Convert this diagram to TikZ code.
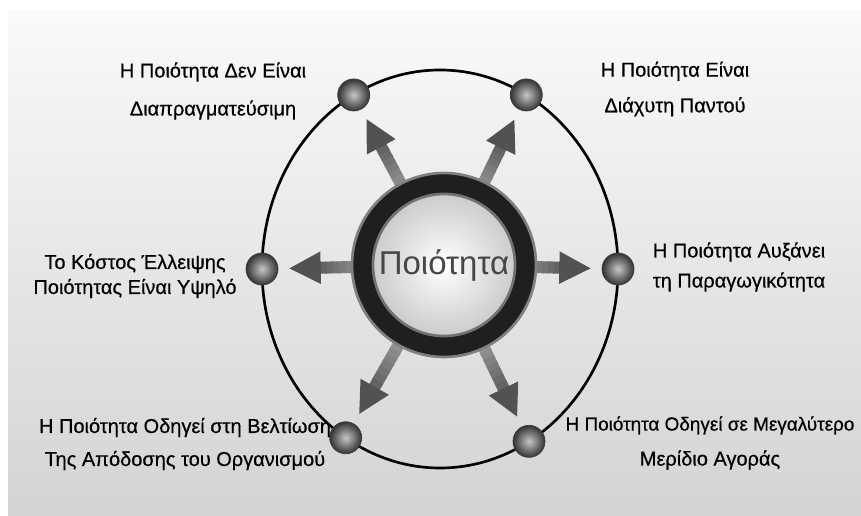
\documentclass[tikz,border=0pt]{standalone}
\usepackage{fontspec}
\setmainfont{Liberation Sans}
\newfontfamily\lblfont[FakeBold=0.5]{Liberation Sans}
\usepackage{tikz}
\usetikzlibrary{calc,arrows.meta}

\begin{document}
\begin{tikzpicture}[x=0.75pt,y=-0.75pt,
  qtext/.style={align=center,text=black,font=\lblfont\fontsize{15}{18.75}\selectfont},
  qball/.style={circle,minimum size=24pt,inner sep=0pt,inner color=black!22,outer color=black!80,draw=black!75,line width=0.6pt},
  qhead/.style={-{Triangle[length=24pt,width=22.5pt]},line width=9pt,draw=black!68,fill=black!68}]

% Panel behind the picture
\useasboundingbox (0,0) rectangle (861,516);
\clip (0,0) rectangle (861,516);
\fill[white] (0,0) rectangle (861,516);
\shade[top color=black!2, middle color=black!6, bottom color=black!17] (8,11) rectangle (861,516);

\coordinate (ctr) at (440,269);
\coordinate (mid) at (444,265);

% The ellipse through the six balls
\draw[line width=2pt] (ctr) ellipse [x radius=178, y radius=199];

\node[qball] (b1) at ($(ctr)+(241:178 and 199)$) {};
\node[qball] (b2) at ($(ctr)+(299:178 and 199)$) {};
\node[qball] (b3) at ($(ctr)+(180:178 and 199)$) {};
\node[qball] (b4) at ($(ctr)+(0:178 and 199)$) {};
\node[qball] (b5) at ($(ctr)+(122:178 and 199)$) {};
\node[qball] (b6) at ($(ctr)+(60:178 and 199)$) {};

% Arrows from the centre to the balls
\newcommand{\ray}[1]{%
  \coordinate (hb) at ($(#1)!44pt!(mid)$);
  \foreach \k in {0,...,9}{
    \pgfmathtruncatemacro{\g}{34+3*\k}
    \draw[line width=9pt, black!\g] ($(mid)!{0.5+0.05*\k}!(hb)$) -- ($(mid)!{0.56+0.05*\k}!(hb)$);
  }
  \draw[qhead] (hb) -- ($(#1)!20pt!(mid)$);
}
\ray{b1}
\ray{b2}
\ray{b3}
\ray{b4}
\ray{b5}
\ray{b6}

% Centre ring
\node[circle,minimum size=138pt,inner sep=0pt,fill=black!88,draw=black!50,line width=2pt] (ring) at (mid) {};
\node[circle,minimum size=106.5pt,inner sep=0pt,inner color=white,outer color=black!20,draw=black!55,line width=2pt,
  text=black!72,font=\fontsize{24.75}{30}\selectfont] (core) at (mid) {Ποιότητα};

% Labels
\node[qtext] (t1) at (213,91) {Η Ποιότητα Δεν Είναι\\[9.75pt]Διαπραγματεύσιμη};
\node[qtext] (t2) at (675,89) {Η Ποιότητα Είναι\\[8pt]Διάχυτη Παντού};
\node[qtext] (t3) at (135,276) {Το Κόστος Έλλειψης\\Ποιότητας Είναι Υψηλό};
\node[qtext] (t4) at (739,267) {Η Ποιότητα Αυξάνει\\[3.75pt]τη Παραγωγικότητα};
\node[qtext] (t5) at (185,444) {Η Ποιότητα Οδηγεί στη Βελτίωση\\[6pt]Της Απόδοσης του Οργανισμού};
\node[qtext] (t6) at (710,443) {{\fontsize{14.2}{18.75}\selectfont Η Ποιότητα Οδηγεί σε Μεγαλύτερο}\\[7.5pt]Μερίδιο Αγοράς};

\end{tikzpicture}
\end{document}
